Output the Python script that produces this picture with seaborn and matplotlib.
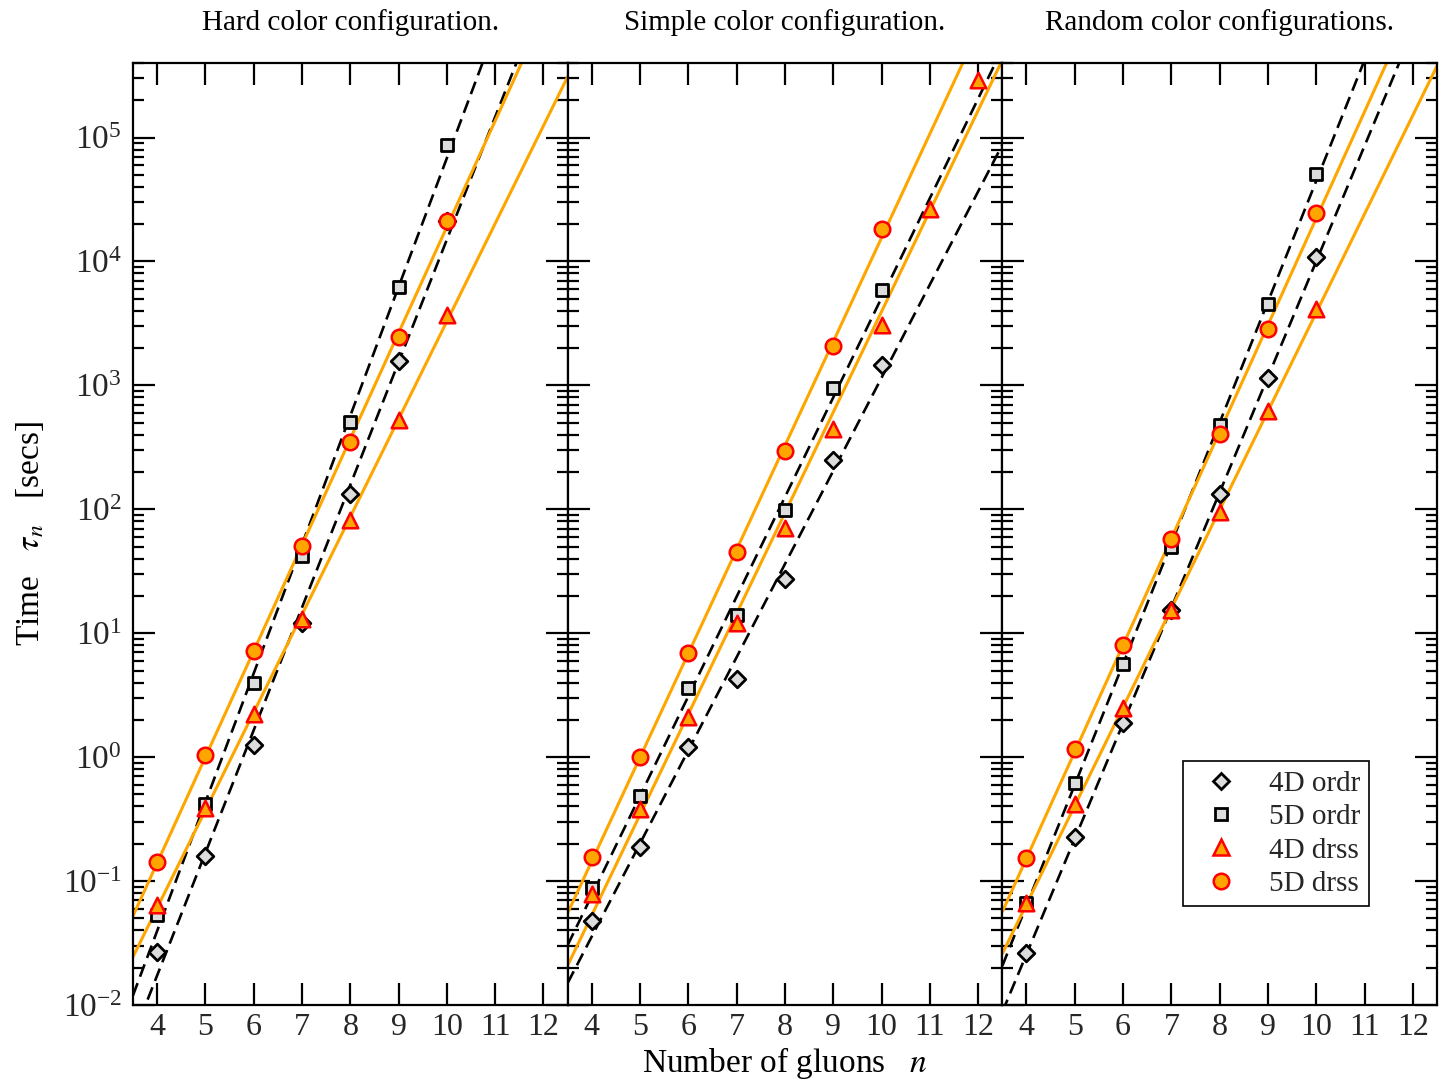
import numpy as np
import pandas as pd
import seaborn as sns
import matplotlib
matplotlib.use("Agg")
import matplotlib.pyplot as plt
from matplotlib.lines import Line2D
from matplotlib.ticker import NullFormatter, FixedLocator, LogFormatterSciNotation

# ---------------- data (seconds) ----------------
panel_titles = ["Hard color configuration.",
                "Simple color configuration.",
                "Random color configurations."]
series_labels = ["4D ordr", "5D ordr", "4D drss", "5D drss"]
x_ticks = [4, 5, 6, 7, 8, 9, 10, 11, 12]
y_decades = [-2, -1, 0, 1, 2, 3, 4, 5]

n_std = [4, 5, 6, 7, 8, 9, 10]
n_long = [4, 5, 6, 7, 8, 9, 10, 11, 12]

# Hard color configuration
hard_4d_ordr = [0.0267, 0.159, 1.25, 12.05, 132, 1563, 21400]
hard_5d_ordr = [0.0532, 0.418, 3.95, 41.8, 504, 6280, 87900]
hard_4d_drss = [0.064, 0.388, 2.22, 13.0, 81.5, 522, 3670]
hard_5d_drss = [0.142, 1.04, 7.16, 50.4, 347, 2440, 21400]

# Simple color configuration
simple_4d_ordr = [0.0475, 0.188, 1.21, 4.26, 27.2, 248, 1450]
simple_5d_ordr = [0.0879, 0.484, 3.60, 14.0, 98.2, 946, 5940]
simple_4d_drss = [0.0785, 0.381, 2.10, 12.05, 70.3, 442, 3050, 26700, 294000]
simple_5d_drss = [0.156, 1.00, 6.90, 45.0, 294, 2070, 18450]

# Random color configurations
random_4d_ordr = [0.0262, 0.226, 1.88, 15.3, 132, 1140, 10800]
random_5d_ordr = [0.0665, 0.617, 5.62, 49.4, 475, 4500, 50400]
random_4d_drss = [0.0665, 0.418, 2.48, 15.3, 94.6, 617, 4100]
random_5d_drss = [0.153, 1.16, 8.0, 57.3, 403, 2830, 24800]

panels = [
    [(n_std, hard_4d_ordr), (n_std, hard_5d_ordr), (n_std, hard_4d_drss), (n_std, hard_5d_drss)],
    [(n_std, simple_4d_ordr), (n_std, simple_5d_ordr), (n_long, simple_4d_drss), (n_std, simple_5d_drss)],
    [(n_std, random_4d_ordr), (n_std, random_5d_ordr), (n_std, random_4d_drss), (n_std, random_5d_drss)],
]

# ---------------- styles ----------------
ORANGE = "#ffa500"
RED = "#ff0000"
GRAY = "#dcdcdc"
styles = [
    dict(marker="D", s=72, face=GRAY, edge="black", ew=2.0, line="black", dashed=True),
    dict(marker="s", s=85, face=GRAY, edge="black", ew=2.0, line="black", dashed=True),
    dict(marker="^", s=125, face=ORANGE, edge=RED, ew=1.8, line=ORANGE, dashed=False),
    dict(marker="o", s=125, face=ORANGE, edge=RED, ew=1.8, line=ORANGE, dashed=False),
]

sns.set_theme(style="ticks")
plt.rcParams["font.family"] = ["Liberation Serif", "DejaVu Serif"]
plt.rcParams["mathtext.fontset"] = "stix"
plt.rcParams["axes.linewidth"] = 1.5

fig, axes = plt.subplots(1, 3, sharey=True, figsize=(14.45, 10.82), dpi=100)
fig.subplots_adjust(left=0.092, right=0.9945, top=0.9418, bottom=0.0712, wspace=0)

xgrid = np.linspace(3.5, 12.5, 200)
major_y = [10.0 ** d for d in y_decades]
minor_y = [m * 10.0 ** d for d in y_decades for m in range(2, 10) if m * 10.0 ** d <= 4e5]

for i, ax in enumerate(axes):
    ax.set_yscale("log")
    # fit lines (straight in log space)
    for (nn, vals), st in zip(panels[i], styles):
        coef = np.polyfit(np.array(nn, float), np.log10(vals), 1)
        yfit = 10 ** np.polyval(coef, xgrid)
        ls = (0, (5.0, 2.6)) if st["dashed"] else "-"
        lw = 1.9 if st["dashed"] else 2.2
        sns.lineplot(x=xgrid, y=yfit, ax=ax, color=st["line"], linewidth=lw,
                     linestyle=ls, zorder=2, legend=False)
    # data points
    for (nn, vals), st in zip(panels[i], styles):
        sns.scatterplot(x=nn, y=vals, ax=ax, marker=st["marker"], s=st["s"],
                        color=st["face"], edgecolor=st["edge"], linewidth=st["ew"],
                        zorder=3, legend=False)

    ax.set_xlim(3.5, 12.5)
    ax.set_ylim(1e-2, 4e5)
    ax.xaxis.set_major_locator(FixedLocator(x_ticks))
    ax.set_xticklabels([str(t) for t in x_ticks])
    ax.yaxis.set_major_locator(FixedLocator(major_y))
    ax.yaxis.set_major_formatter(LogFormatterSciNotation())
    ax.yaxis.set_minor_locator(FixedLocator(minor_y))
    ax.yaxis.set_minor_formatter(NullFormatter())
    ax.tick_params(axis="both", which="major", direction="in", length=16, width=1.6,
                   top=True, right=True, color="black")
    ax.tick_params(axis="x", which="major", labelsize=23, pad=6)
    ax.tick_params(axis="y", which="major", labelsize=24, pad=8)
    ax.tick_params(axis="y", which="minor", direction="in", length=8, width=1.6,
                   left=True, right=True, color="black")
    ax.tick_params(axis="x", which="minor", bottom=False, top=False)
    if i > 0:
        ax.tick_params(axis="y", which="both", labelleft=False)
    for sp in ax.spines.values():
        sp.set_color("black")
        sp.set_linewidth(1.6)
    ax.set_title(panel_titles[i], fontsize=21, pad=24, color="black")

axes[0].set_ylabel(r"Time   $\tau_{n}$   [secs]", fontsize=24, labelpad=12, color="black")
axes[1].set_xlabel(r"Number of gluons   $n$", fontsize=24, labelpad=2, color="black")

handles = [Line2D([0], [0], linestyle="none", marker=st["marker"],
                  markersize=np.sqrt(st["s"]), markerfacecolor=st["face"],
                  markeredgecolor=st["edge"], markeredgewidth=st["ew"])
           for st in styles]
leg = axes[2].legend(handles, series_labels, loc="lower left",
                     bbox_to_anchor=(0.416, 0.105), fontsize=21, frameon=True,
                     fancybox=False, framealpha=1, edgecolor="black",
                     handletextpad=0.62, labelspacing=0.24, borderpad=0.31,
                     borderaxespad=0)
leg.get_frame().set_linewidth(1.2)

fig.savefig("out.png", dpi=100)
